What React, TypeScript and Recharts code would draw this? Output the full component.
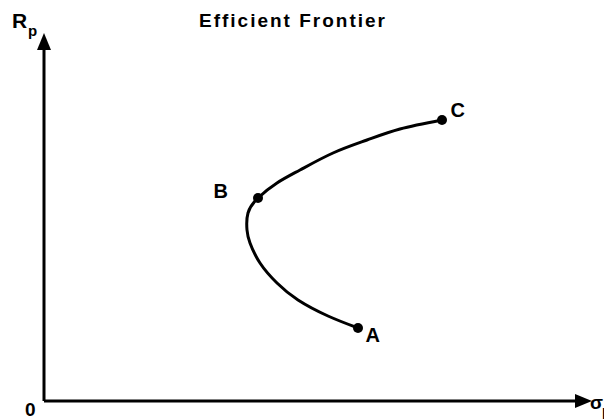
import { ComposedChart, Line, Scatter, XAxis, YAxis, LabelList } from 'recharts';

// frontier traced from A (low return) up to C (high return)
const frontierRisk = [314, 284, 254, 233, 216, 206, 203, 204, 214, 233, 256, 289, 323, 356, 398];
const frontierReturn = [73, 85, 101, 118, 138, 158, 171, 188, 203, 218, 231, 248, 261, 272, 281];

const portfolioNames = ['A', 'B', 'C'];
const portfolioRisk = [314, 214, 398];
const portfolioReturn = [73, 203, 281];

const frontier = frontierRisk.map((risk, i) => ({ risk, ret: frontierReturn[i] }));
const portfolios = portfolioNames.map((name, i) => ({
  name,
  risk: portfolioRisk[i],
  ret: portfolioReturn[i],
}));

// where each letter sits relative to its dot
const labelOffset: Record<string, [number, number]> = {
  A: [12, 19],
  B: [-40, 5],
  C: [13, 2],
};

const font = '"Liberation Sans", Arial, Helvetica, sans-serif';

const PointLabel = (props: any) => {
  const { x, y, value } = props;
  const [dx, dy] = labelOffset[value] || [0, 0];
  return (
    <text x={x + dx} y={y + dy} fontFamily={font} fontWeight="bold" fontSize={20} fill="#000">
      {value}
    </text>
  );
};

export default function App() {
  return (
    <div style={{ position: 'absolute', left: 0, top: 0, width: 604, height: 419, background: '#fff' }}>
      <ComposedChart width={604} height={419} margin={{ top: 50, right: 29, bottom: 17, left: 43 }}>
        <defs>
          <marker
            id="arrowHead"
            markerUnits="userSpaceOnUse"
            markerWidth={17}
            markerHeight={14}
            refX={0}
            refY={7}
            orient="auto-start-reverse"
          >
            <path d="M0,0 L17,7 L0,14 Z" fill="#000" />
          </marker>
        </defs>
        <XAxis
          type="number"
          dataKey="risk"
          domain={[0, 531]}
          height={1}
          tick={false}
          tickLine={false}
          axisLine={{ stroke: '#000', strokeWidth: 3, markerEnd: 'url(#arrowHead)' }}
        />
        <YAxis
          type="number"
          dataKey="ret"
          domain={[0, 351]}
          width={1}
          tick={false}
          tickLine={false}
          axisLine={{ stroke: '#000', strokeWidth: 3, markerStart: 'url(#arrowHead)' }}
        />
        <Line
          data={frontier}
          dataKey="ret"
          type="natural"
          stroke="#000"
          strokeWidth={3}
          dot={false}
          activeDot={false}
          isAnimationActive={false}
        />
        <Scatter
          data={portfolios}
          dataKey="ret"
          fill="#000"
          shape={(p: any) => <circle cx={p.cx} cy={p.cy} r={5} fill="#000" />}
          isAnimationActive={false}
        >
          <LabelList dataKey="name" content={PointLabel} />
        </Scatter>
        <text x={293} y={27} textAnchor="middle" fontFamily={font} fontWeight="bold" fontSize={19} letterSpacing={2} fill="#000">
          Efficient Frontier
        </text>
        <text x={12} y={28} fontFamily={font} fontWeight="bold" fontSize={21} fill="#000">
          R
        </text>
        <text x={28} y={36} fontFamily={font} fontWeight="bold" fontSize={15} fill="#000">
          p
        </text>
        <text x={25} y={416} fontFamily={font} fontWeight="bold" fontSize={19} fill="#000">
          0
        </text>
        <text x={590} y={409} fontFamily={font} fontWeight="bold" fontSize={19} fill="#000">
          σ
        </text>
        <text x={602} y={416} fontFamily={font} fontWeight="bold" fontSize={14} fill="#000">
          p
        </text>
      </ComposedChart>
    </div>
  );
}
